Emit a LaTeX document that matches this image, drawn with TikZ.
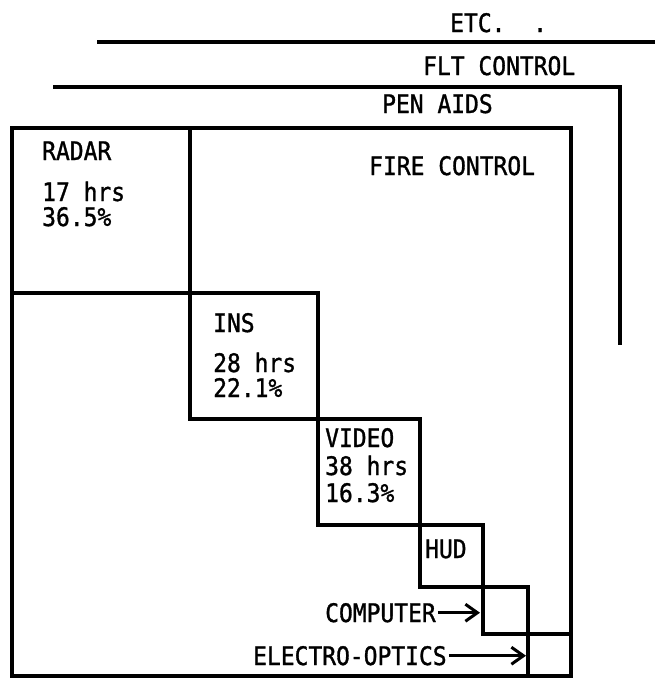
\documentclass[tikz,border=0pt]{standalone}
\usepackage{fontspec}
\newfontfamily\reffont[FakeStretch=0.9,FakeBold=1.2]{DejaVu Sans Mono}
\usetikzlibrary{arrows.meta}
\begin{document}
\begin{tikzpicture}[x=1pt,y=-1pt,
  ln/.style={line width=3.4pt, line join=miter},
  lbl/.style={anchor=base west, inner sep=0pt, font=\reffont\fontsize{25.5}{28}\selectfont},
  arr/.style={line width=3pt, -{Straight Barb[length=12pt,width=17pt,line width=3pt]}}]
\useasboundingbox (0,0) rectangle (655,678);

% top category lines
\draw[ln] (97,42) -- (655,42);
\draw[ln] (53,87) -- (620,87) -- (620,345);

% outer FIRE CONTROL box
\draw[ln] (12,128) rectangle (571,676);

% staircase of subsystem boxes
\draw[ln] (190,128) -- (190,419) -- (420,419) -- (420,587) -- (528,587) -- (528,676);
\draw[ln] (12,293) -- (318,293) -- (318,525) -- (483,525) -- (483,634) -- (571,634);

% named target points for arrows
\coordinate (cpL) at (480,0);
\coordinate (eoL) at (526,0);

% labels
\node[lbl] (etc) at (450,32) {ETC.\ \ .};
\node[lbl] (flt) at (423,75) {FLT CONTROL};
\node[lbl] (pen) at (382,113) {PEN AIDS};
\node[lbl] (fire) at (369,175) {FIRE CONTROL};

\node[lbl] (radar) at (42,160) {RADAR};
\node[lbl] (radarh) at (42,201) {17 hrs};
\node[lbl] (radarp) at (42,226) {36.5\%};

\node[lbl] (ins) at (213,332) {INS};
\node[lbl] (insh) at (213,372) {28 hrs};
\node[lbl] (insp) at (213,397) {22.1\%};

\node[lbl] (video) at (325,447) {VIDEO};
\node[lbl] (videoh) at (325,475) {38 hrs};
\node[lbl] (videop) at (325,502) {16.3\%};

\node[lbl] (hud) at (425,558) {HUD};

\node[lbl] (comp) at (325,622) {COMPUTER};
\node[lbl] (eo) at (253,665) {ELECTRO-OPTICS};

\draw[arr] ([xshift=2pt]comp.east) -- (comp.east -| cpL);
\draw[arr] ([xshift=2pt]eo.east) -- (eo.east -| eoL);
\end{tikzpicture}
\end{document}
